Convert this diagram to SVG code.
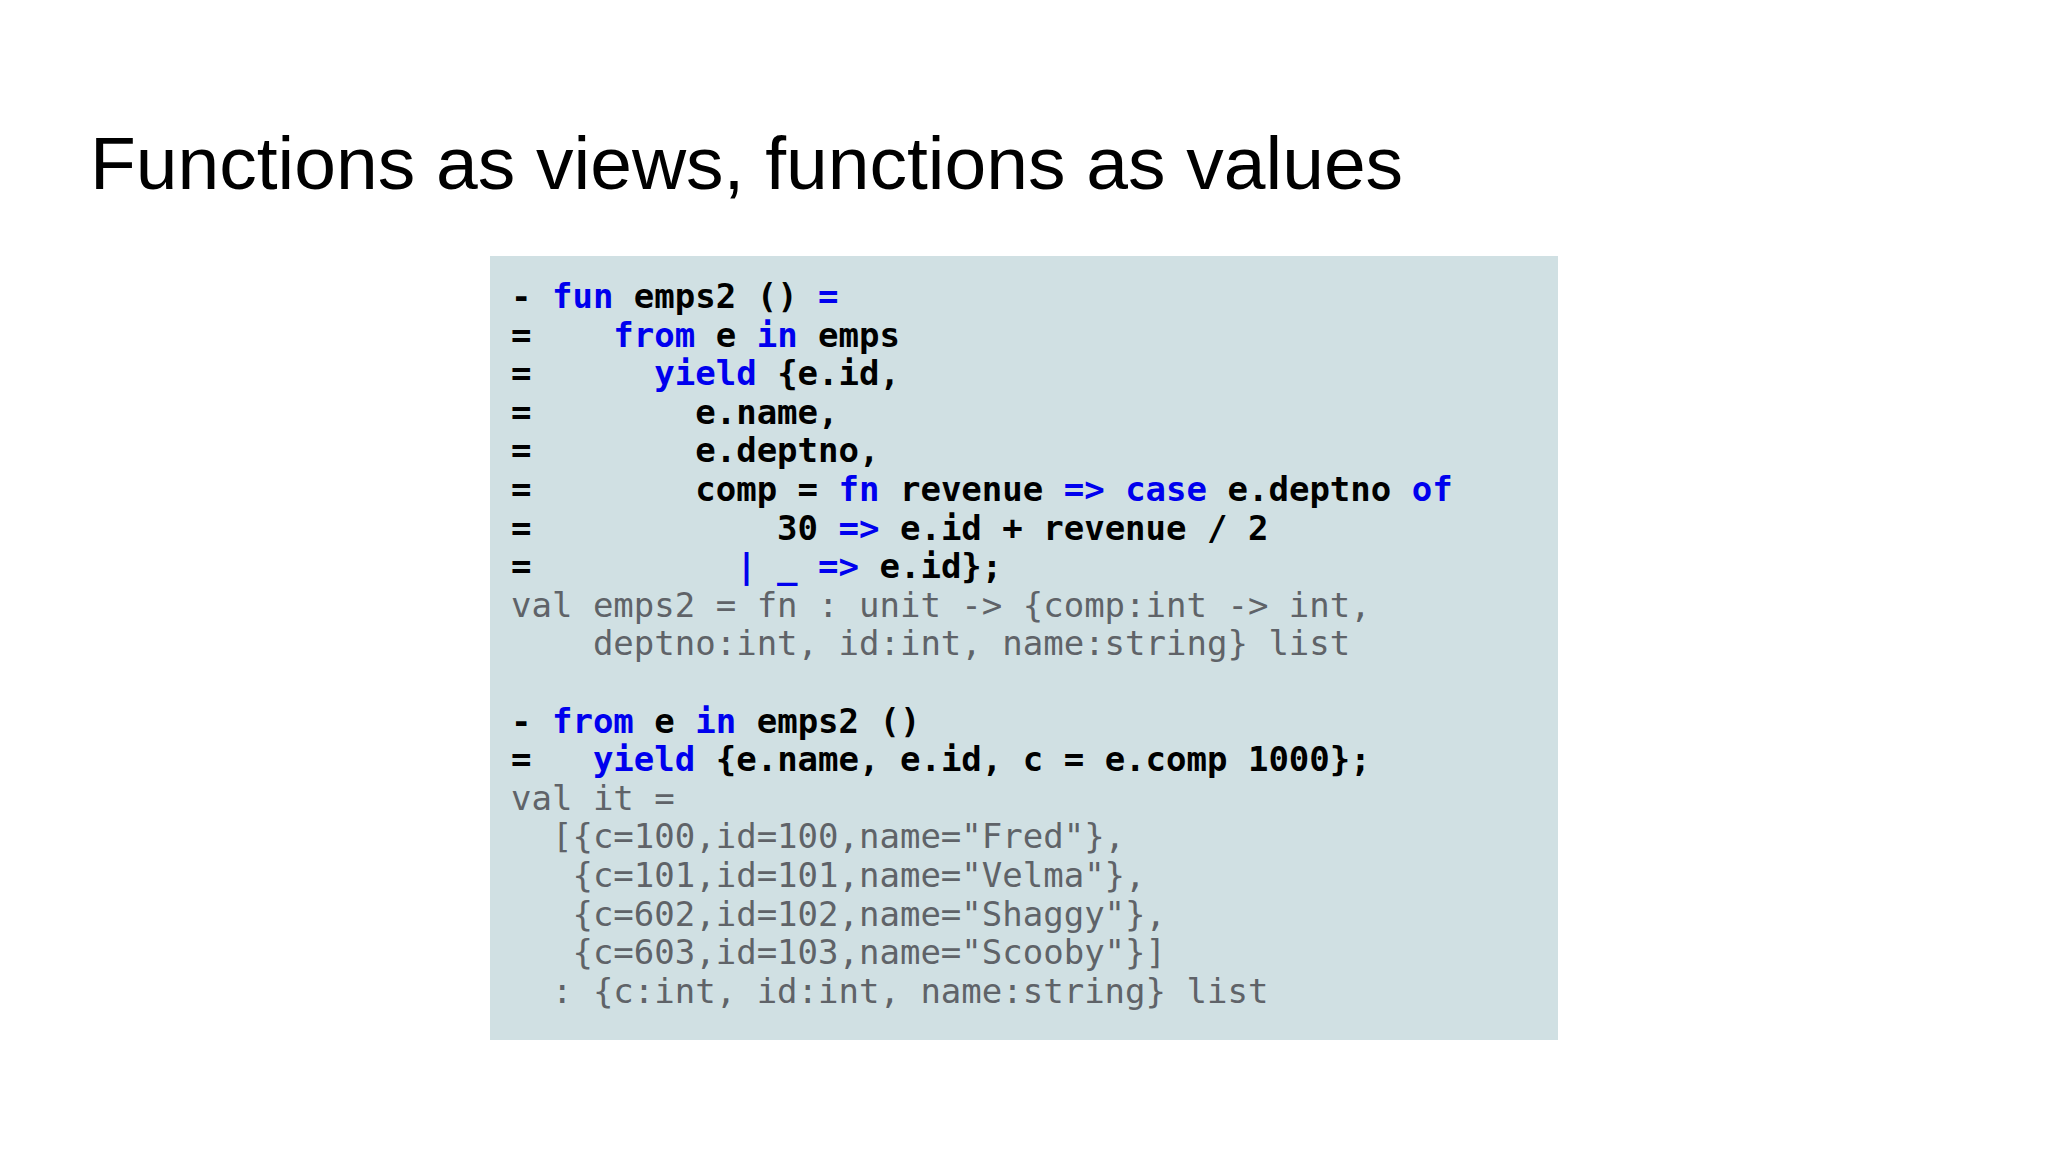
<svg xmlns="http://www.w3.org/2000/svg" width="2048" height="1152" viewBox="0 0 2048 1152">
<style>
.t{font-family:"Liberation Sans",Arial,sans-serif;font-size:75px;fill:#000}
.c{font-family:"DejaVu Sans Mono","Liberation Mono",monospace;font-size:34px;white-space:pre}
.i{font-weight:bold;fill:#000}
.o{fill:#5f6368}
.k{fill:#0000ee}
</style>
<rect width="2048" height="1152" fill="#fff"/>
<text id="title" class="t" x="90" y="189">Functions as views, functions as values</text>
<g id="code">
<rect x="490" y="256" width="1068" height="784" fill="#d0e0e3"/>
<text class="c" xml:space="preserve">
<tspan class="i" x="511" y="308">- <tspan class="k">fun</tspan> emps2 () <tspan class="k">=</tspan></tspan>
<tspan class="i" x="511" y="346.6">=    <tspan class="k">from</tspan> e <tspan class="k">in</tspan> emps</tspan>
<tspan class="i" x="511" y="385.2">=      <tspan class="k">yield</tspan> {e.id,</tspan>
<tspan class="i" x="511" y="423.8">=        e.name,</tspan>
<tspan class="i" x="511" y="462.4">=        e.deptno,</tspan>
<tspan class="i" x="511" y="501">=        comp = <tspan class="k">fn</tspan> revenue <tspan class="k">=&gt;</tspan> <tspan class="k">case</tspan> e.deptno <tspan class="k">of</tspan></tspan>
<tspan class="i" x="511" y="539.6">=            30 <tspan class="k">=&gt;</tspan> e.id + revenue / 2</tspan>
<tspan class="i" x="511" y="578.2">=          <tspan class="k">| _ =&gt;</tspan> e.id};</tspan>
<tspan class="o" x="511" y="616.8">val emps2 = fn : unit -&gt; {comp:int -&gt; int,</tspan>
<tspan class="o" x="511" y="655.4">    deptno:int, id:int, name:string} list</tspan>
<tspan class="i" x="511" y="732.6">- <tspan class="k">from</tspan> e <tspan class="k">in</tspan> emps2 ()</tspan>
<tspan class="i" x="511" y="771.2">=   <tspan class="k">yield</tspan> {e.name, e.id, c = e.comp 1000};</tspan>
<tspan class="o" x="511" y="809.8">val it =</tspan>
<tspan class="o" x="511" y="848.4">  [{c=100,id=100,name="Fred"},</tspan>
<tspan class="o" x="511" y="887">   {c=101,id=101,name="Velma"},</tspan>
<tspan class="o" x="511" y="925.6">   {c=602,id=102,name="Shaggy"},</tspan>
<tspan class="o" x="511" y="964.2">   {c=603,id=103,name="Scooby"}]</tspan>
<tspan class="o" x="511" y="1002.8">  : {c:int, id:int, name:string} list</tspan>
</text>
</g>
</svg>
